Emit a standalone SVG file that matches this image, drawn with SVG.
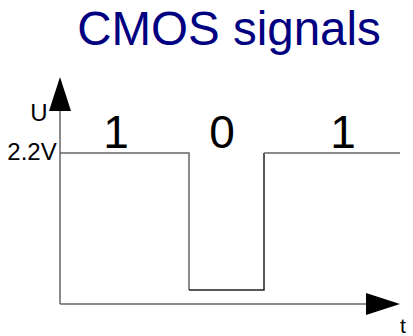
<svg xmlns="http://www.w3.org/2000/svg" width="413" height="336" viewBox="0 0 413 336">
<style>
.lbl{font-family:"Liberation Sans",Arial,sans-serif;fill:#000}
.ax{stroke:#666;stroke-width:1.5;fill:none}
.sig{stroke:#666;stroke-width:1.5;fill:none}
.head{fill:#000}
</style>
<rect width="413" height="336" fill="#fff"/>
<text x="229" y="45" text-anchor="middle" font-family="Liberation Sans, Arial, sans-serif" font-size="47.5" fill="#000080">CMOS signals</text>
<g id="connectors">
<line class="ax" x1="60" y1="304" x2="60" y2="105"/>
<polygon class="head" points="60,77 71,111 49,111"/>
<line class="ax" x1="60" y1="304" x2="370" y2="304"/>
<polygon class="head" points="400,304 366,293 366,315"/>
</g>
<g id="signal">
<polyline class="sig" points="60,153 189,153 189,290"/>
<polyline fill="none" stroke="#222" stroke-width="1.5" points="189,290 264,290 264,153"/>
<line class="sig" x1="264" y1="153" x2="400" y2="153"/>
</g>
<g id="labels">
<text class="lbl" x="39" y="121" font-size="24" text-anchor="middle">U</text>
<text class="lbl" x="32" y="160" font-size="24" text-anchor="middle">2.2V</text>
<text class="lbl" x="116" y="148" font-size="46" text-anchor="middle">1</text>
<text class="lbl" x="222" y="148" font-size="46" text-anchor="middle">0</text>
<text class="lbl" x="343" y="148" font-size="46" text-anchor="middle">1</text>
<text class="lbl" x="403" y="333" font-size="21" text-anchor="middle">t</text>
</g>
</svg>
